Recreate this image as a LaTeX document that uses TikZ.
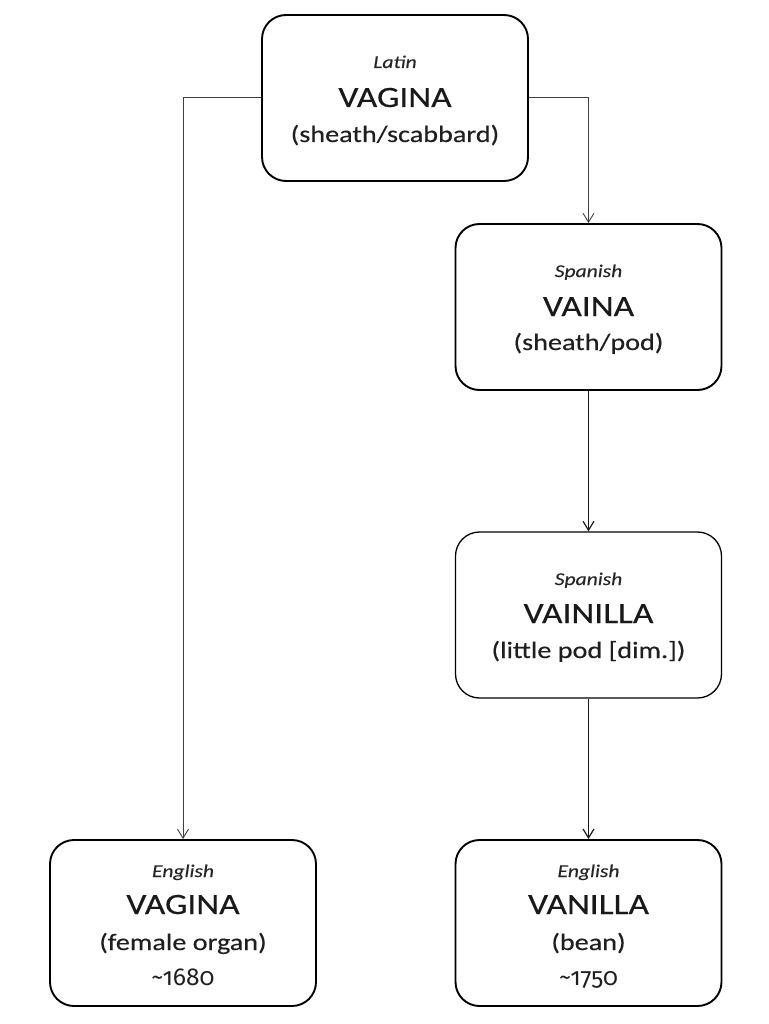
\documentclass[tikz,border=0pt]{standalone}
\usepackage{fontspec}
\setmainfont[FakeStretch=1.2,FakeBold=0.35]{Carlito}
\newfontfamily\datefont[Numbers=OldStyle]{Fira Sans}
\usetikzlibrary{arrows.meta}
\tikzset{
  x=1pt,y=-1pt,
  wbox/.style={draw=black, line width=1.9pt, rounded corners=24pt, minimum width=266pt, minimum height=166pt, inner sep=0pt},
  langtxt/.style={anchor=base, inner sep=0pt, font=\fontsize{18}{20}\selectfont\itshape, text=black!85},
  wordtxt/.style={anchor=base, inner sep=0pt, font=\fontsize{29.5}{32}\selectfont, text=black!90},
  glosstxt/.style={anchor=base, inner sep=0pt, font=\fontsize{23.5}{26}\selectfont, text=black!88},
  datetxt/.style={anchor=base, inner sep=0pt, font=\fontsize{24.5}{28}\datefont, text=black!88},
  conn/.style={draw=black!75, line width=0.9pt, -{Straight Barb[length=9pt,width=11pt,line width=0.9pt]}},
  connb/.style={draw=black!90, line width=1.4pt, -{Straight Barb[length=9pt,width=11pt,line width=1.2pt]}},
}
\begin{document}
\begin{tikzpicture}
\useasboundingbox (0,0) rectangle (768,1024);
% boxes
\node[wbox] (lat) at (395,98) {};
\node[wbox] (vaina) at (588.5,307) {};
\node[wbox, line width=1.3pt] (vainilla) at (588.5,615) {};
\node[wbox] (engv) at (183,923) {};
\node[wbox] (engvan) at (588.5,923) {};
% texts: Latin
\node[langtxt] (latl) at (395,68) {Latin};
\node[wordtxt] (latw) at (395,107) {VAGINA};
\node[glosstxt] (latg) at (395,142) {(sheath/scabbard)};
% VAINA
\node[langtxt] (vainal) at (588.5,277) {Spanish};
\node[wordtxt] (vainaw) at (588.5,316) {VAINA};
\node[glosstxt] (vainag) at (588.5,350) {(sheath/pod)};
% VAINILLA
\node[langtxt] (vainillal) at (588.5,585) {Spanish};
\node[wordtxt] (vainillaw) at (588.5,623) {VAINILLA};
\node[glosstxt] (vainillag) at (588.5,658) {(little pod [dim.])};
% English VAGINA
\node[langtxt] (engvl) at (183,877) {English};
\node[wordtxt] (engvw) at (183,914) {VAGINA};
\node[glosstxt] (engvg) at (183,950) {(female organ)};
\node[datetxt] (engvd) at (183,985) {\char"7E\relax 1680};
% English VANILLA
\node[langtxt] (engvanl) at (588.5,877) {English};
\node[wordtxt] (engvanw) at (588.5,914) {VANILLA};
\node[glosstxt] (engvang) at (588.5,950) {(bean)};
\node[datetxt] (engvand) at (588.5,985) {\char"7E\relax 1750};
% connectors
\draw[conn] (lat.west |- 0,97) -| (engv.north);
\draw[conn] (lat.east |- 0,97) -| (vaina.north);
\draw[connb] (vaina.south) -- (vainilla.north);
\draw[connb] (vainilla.south) -- (engvan.north);
\end{tikzpicture}
\end{document}
